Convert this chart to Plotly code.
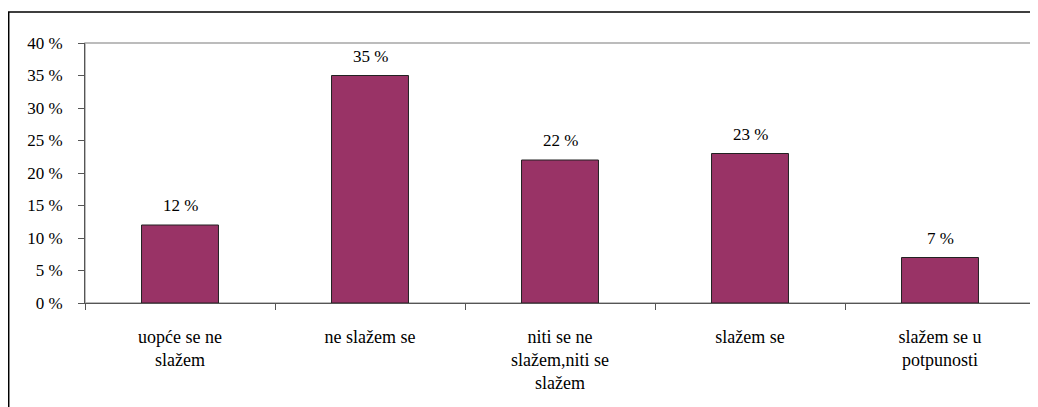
import plotly.graph_objects as go

categories = ["uopće se ne<br>slažem", "ne slažem se", "niti se ne<br>slažem,niti se<br>slažem", "slažem se", "slažem se u<br>potpunosti"]
values = [12, 35, 22, 23, 7]
value_labels = ["12 %", "35 %", "22 %", "23 %", "7 %"]
y_ticks = [0, 5, 10, 15, 20, 25, 30, 35, 40]
y_tick_labels = ["0 %", "5 %", "10 %", "15 %", "20 %", "25 %", "30 %", "35 %", "40 %"]

FONT = "'Times New Roman', 'Liberation Serif', 'DejaVu Serif', serif"

fig = go.Figure()
fig.add_trace(go.Bar(
    x=categories, y=values,
    marker=dict(color="#993366", line=dict(color="#222222", width=1)),
    width=0.405,
    hoverinfo="skip",
))

for c, v, t in zip(categories, values, value_labels):
    fig.add_annotation(x=c, y=v, text=t, showarrow=False, yanchor="bottom",
                       yshift=8, font=dict(family=FONT, size=17, color="#000000"))

fig.update_layout(
    width=1030, height=399,
    margin=dict(l=77, r=3, t=35, b=104),
    paper_bgcolor="white", plot_bgcolor="white",
    showlegend=False,
    font=dict(family=FONT, size=17, color="#000000"),
    xaxis=dict(
        type="category",
        showline=True, linecolor="#555555", linewidth=1,
        ticks="outside", tickson="boundaries", ticklen=6, tickcolor="#555555",
        showgrid=False,
        ticklabelstandoff=17,
        tickfont=dict(family=FONT, size=18),
    ),
    yaxis=dict(
        range=[0, 40],
        tickvals=y_ticks, ticktext=y_tick_labels,
        showline=True, linecolor="#555555", linewidth=1,
        ticks="outside", ticklen=6, tickcolor="#555555",
        showgrid=False, zeroline=False,
        ticklabelstandoff=12,
        tickfont=dict(family=FONT, size=17),
    ),
    shapes=[
        dict(type="rect", xref="paper", yref="paper", x0=0, x1=1, y0=0, y1=1,
             line=dict(color="#a6a6a6", width=1.5), layer="below"),
        dict(type="rect", xref="paper", yref="paper", x0=-0.0803, x1=1.05, y0=-0.5, y1=1.119,
             line=dict(color="#000000", width=1.5), fillcolor="rgba(0,0,0,0)", layer="above"),
    ],
)

fig.write_html("out.html")
